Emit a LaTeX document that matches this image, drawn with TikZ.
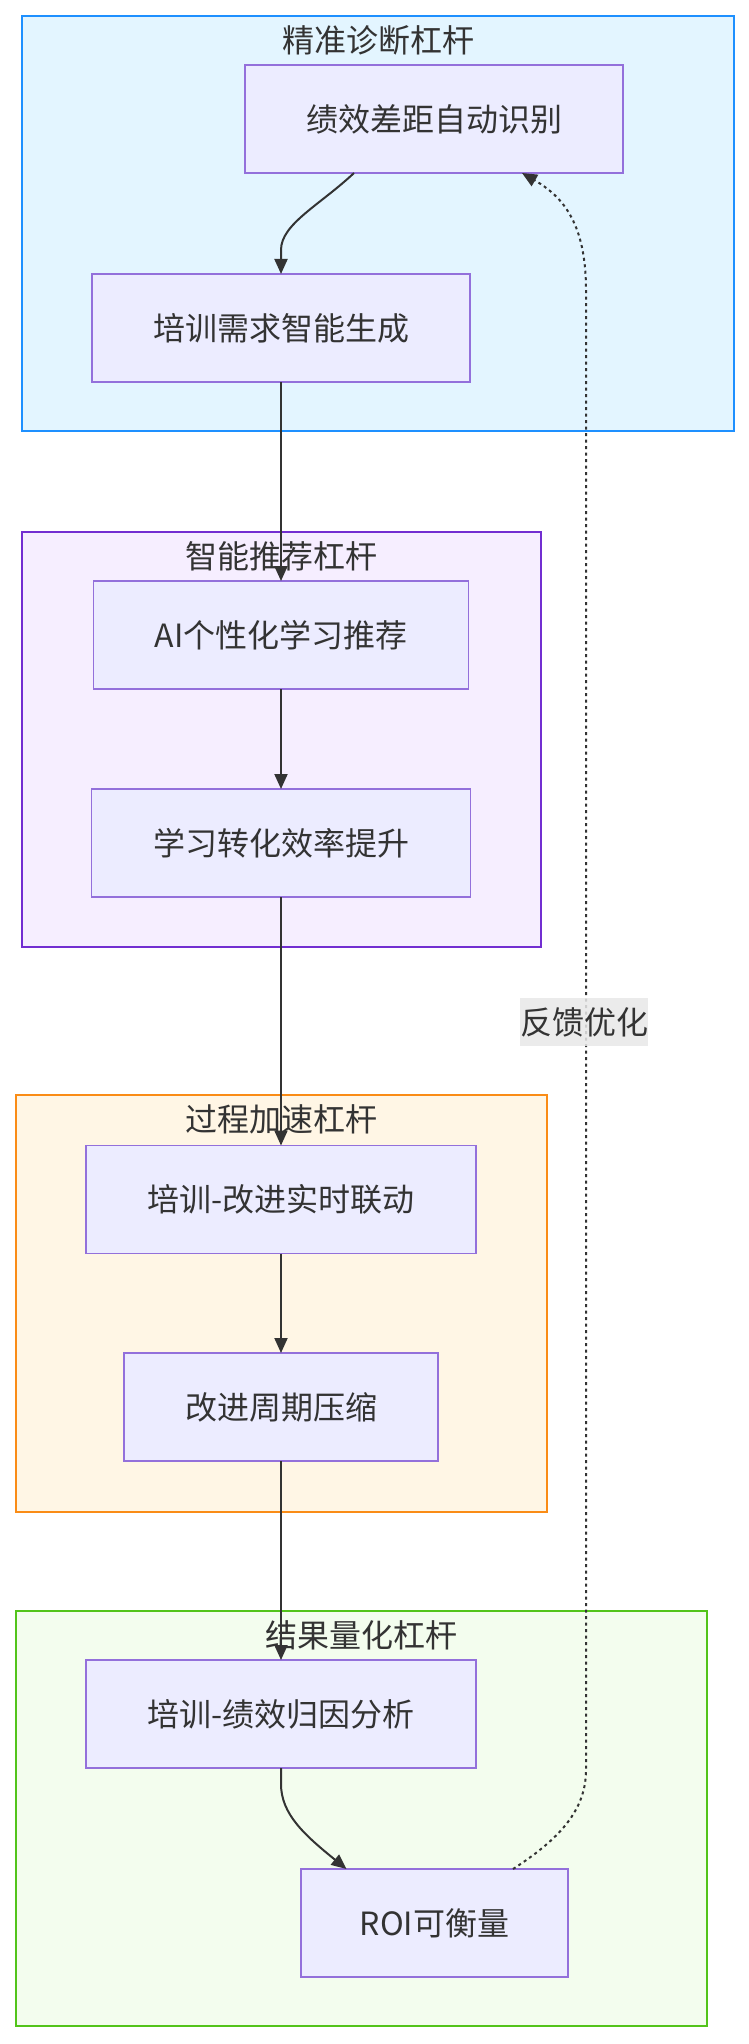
\documentclass[tikz,border=0pt]{standalone}
\usepackage{fontspec}
\setmainfont{Noto Sans CJK SC}
\usetikzlibrary{arrows.meta,calc}
\definecolor{txt}{HTML}{333333}
\definecolor{nodefill}{HTML}{ECECFF}
\definecolor{nodeline}{HTML}{9370DB}
\definecolor{cAfill}{HTML}{E3F5FF}
\definecolor{cAline}{HTML}{1E90FF}
\definecolor{cBfill}{HTML}{F6EEFF}
\definecolor{cBline}{HTML}{722ED1}
\definecolor{cCfill}{HTML}{FFF6E5}
\definecolor{cCline}{HTML}{FA8C16}
\definecolor{cDfill}{HTML}{F3FDEE}
\definecolor{cDline}{HTML}{52C41A}
\definecolor{edge}{HTML}{333333}
\definecolor{lblbg}{HTML}{E8E8E8}
\tikzset{
  cluster/.style={draw, line width=2pt, minimum height=415pt, inner sep=0pt, outer sep=0pt},
  ctitle/.style={text=txt, font=\fontsize{32}{36}\selectfont, inner sep=0pt, anchor=center},
  nodebox/.style={draw=nodeline, fill=nodefill, line width=1.8pt, minimum height=108pt, inner sep=0pt, outer sep=0pt, text=txt, font=\fontsize{32}{36}\selectfont},
  flow/.style={draw=edge, line width=2pt, -{Triangle[length=15pt,width=13pt]}},
  fback/.style={draw=edge, line width=2pt, dash pattern=on 3pt off 3.5pt, -{Triangle[length=15pt,width=13pt]}},
  lbl/.style={fill=lblbg, fill opacity=0.85, text opacity=1, text=txt, font=\fontsize{32}{36}\selectfont, inner sep=0pt, minimum width=128pt, minimum height=48pt}
}
\begin{document}
\begin{tikzpicture}[x=1pt,y=-1pt]
\useasboundingbox (0,0) rectangle (748,2044);
% clusters
\node[cluster, draw=cAline, fill=cAfill, minimum width=712pt] (c1) at (378,223.5) {};
\node[cluster, draw=cBline, fill=cBfill, minimum width=519pt] (c2) at (281.5,739.5) {};
\node[cluster, draw=cCline, fill=cCfill, minimum width=531pt, minimum height=417pt] (c3) at (281.5,1303.5) {};
\node[cluster, draw=cDline, fill=cDfill, minimum width=691pt] (c4) at (361.5,1818.5) {};
\node[ctitle] (t1) at ($(c1.north)+(0,24)$) {精准诊断杠杆};
\node[ctitle] (t2) at ($(c2.north)+(0,24)$) {智能推荐杠杆};
\node[ctitle] (t3) at ($(c3.north)+(0,24)$) {过程加速杠杆};
\node[ctitle] (t4) at ($(c4.north)+(0,24)$) {结果量化杠杆};
% nodes
\node[nodebox, minimum width=378pt] (A) at (434,119) {绩效差距自动识别};
\node[nodebox, minimum width=378pt] (B) at (281,328) {培训需求智能生成};
\node[nodebox, minimum width=375pt] (C) at (281,635) {AI个性化学习推荐};
\node[nodebox, minimum width=379pt] (D) at (281,843) {学习转化效率提升};
\node[nodebox, minimum width=390pt] (E) at (281,1199.5) {培训-改进实时联动};
\node[nodebox, minimum width=314pt] (F) at (281,1407) {改进周期压缩};
\node[nodebox, minimum width=390pt] (G) at (281,1714) {培训-绩效归因分析};
\node[nodebox, minimum width=267pt] (H) at (434.5,1923) {ROI可衡量};
% edges
\draw[flow] ([xshift=-80pt]A.south) .. controls ([xshift=-114pt,yshift=-32pt]A.south) and ([yshift=50pt]B.north) .. ([yshift=24pt]B.north) -- (B.north);
\draw[flow] (B.south) -- (C.north);
\draw[flow] (C.south) -- (D.north);
\draw[flow] (D.south) -- (E.north);
\draw[flow] (E.south) -- (F.north);
\draw[flow] (F.south) -- (G.north);
\draw[flow] (G.south) -- ([yshift=-16pt]G.south) .. controls ([yshift=-46pt]G.south) and ([xshift=-130pt,yshift=34pt]H.north) .. ([xshift=-88pt]H.north);
\coordinate (fb1) at (586,1770);
\coordinate (fb2) at (586,290);
\draw[fback] ([xshift=78.5pt]H.north) .. controls ([xshift=125pt,yshift=30pt]H.north) and ($(fb1)+(0,40)$) .. (fb1) -- (fb2) .. controls ($(fb2)+(0,-70)$) and ([xshift=126pt,yshift=-22pt]A.south) .. ([xshift=88pt]A.south);
\node[lbl] (L) at (584,1022) {反馈优化};
\end{tikzpicture}
\end{document}
